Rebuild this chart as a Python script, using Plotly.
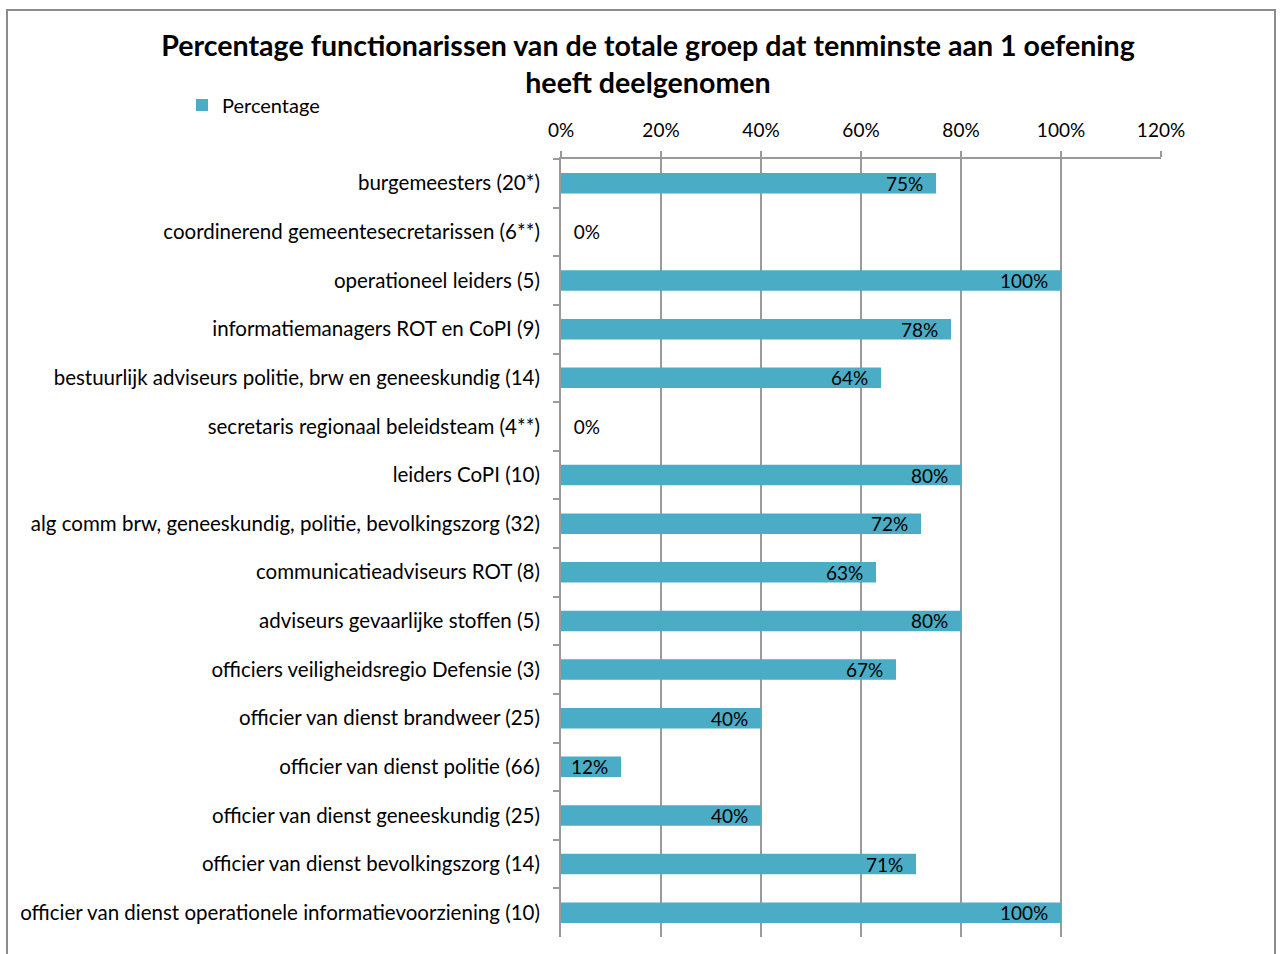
import plotly.graph_objects as go

categories = [
    "burgemeesters (20*)",
    "coordinerend gemeentesecretarissen (6**)",
    "operationeel leiders (5)",
    "informatiemanagers ROT en CoPI (9)",
    "bestuurlijk adviseurs politie, brw en geneeskundig (14)",
    "secretaris regionaal beleidsteam (4**)",
    "leiders CoPI (10)",
    "alg comm brw, geneeskundig, politie, bevolkingszorg (32)",
    "communicatieadviseurs ROT (8)",
    "adviseurs gevaarlijke stoffen (5)",
    "officiers veiligheidsregio Defensie (3)",
    "officier van dienst brandweer (25)",
    "officier van dienst politie (66)",
    "officier van dienst geneeskundig (25)",
    "officier van dienst bevolkingszorg (14)",
    "officier van dienst operationele informatievoorziening (10)",
]
values = [0.75, 0.0, 1.00, 0.78, 0.64, 0.0, 0.80, 0.72, 0.63, 0.80, 0.67, 0.40, 0.12, 0.40, 0.71, 1.00]
x_ticks = [0, 0.2, 0.4, 0.6, 0.8, 1.0, 1.2]

FONT = "Lato"
BAR = "#4BACC6"
GRID = "#9a9a9a"

W, H = 1280, 954
L, R, T, B = 561, 1161, 159, 937

textpos = ["inside" if v > 0 else "outside" for v in values]
templ = ["%{x:.0%}\u00a0\u00a0" if v > 0 else "\u00a0\u00a0%{x:.0%}" for v in values]

fig = go.Figure(go.Bar(
    x=values, y=categories, orientation="h", name="Percentage",
    marker=dict(color=BAR, line=dict(width=0)),
    width=0.42,
    texttemplate=templ, textposition=textpos, insidetextanchor="end",
    constraintext="none", cliponaxis=False,
    textfont=dict(family=FONT, size=19, color="black"),
))

fig.update_layout(
    width=W, height=H,
    margin=dict(l=L, r=W - R, t=T, b=H - B, pad=0),
    paper_bgcolor="white", plot_bgcolor="white",
    font=dict(family=FONT, size=20, color="black"),
    title=dict(
        text="<b>Percentage functionarissen van de totale groep dat tenminste aan 1 oefening<br>heeft deelgenomen</b>",
        x=648 / W, xanchor="center", xref="container",
        y=1 - 56 / H, yanchor="top", yref="container",
        font=dict(family=FONT, size=28.6, color="black"),
    ),
    showlegend=True,
    legend=dict(
        x=(182 - L) / (R - L), xanchor="left",
        y=1 + (T - 105) / (B - T), yanchor="middle",
        font=dict(family=FONT, size=20, color="black"),
        bgcolor="rgba(0,0,0,0)",
    ),
    bargap=0.58,
)

fig.update_xaxes(
    range=[0, 1.2], side="top", tickvals=x_ticks, tickformat=".0%",
    showgrid=True, gridcolor=GRID, gridwidth=2,
    showline=True, linecolor=GRID, linewidth=2,
    ticks="outside", ticklen=6, tickcolor=GRID, tickwidth=2,
    zeroline=False, ticklabelstandoff=6,
    tickfont=dict(family=FONT, size=19, color="black"),
)
fig.update_yaxes(
    autorange="reversed", type="category",
    showline=True, linecolor=GRID, linewidth=2,
    ticks="outside", ticklen=6, tickcolor=GRID, tickwidth=2,
    tickson="boundaries", showgrid=False, ticklabelstandoff=15,
    tickfont=dict(family=FONT, size=20.5, color="black"),
)

# outer chart frame
fig.add_shape(type="rect", xref="paper", yref="paper",
              x0=(7 - L) / (R - L), x1=(1275 - L) / (R - L),
              y0=(B - 970) / (B - T), y1=1 + (T - 10) / (B - T),
              line=dict(color="#8c8c8c", width=2), fillcolor="rgba(0,0,0,0)", layer="below")

fig.write_html("out.html", config={"displayModeBar": False},
               post_script="document.body.style.margin='0';")
